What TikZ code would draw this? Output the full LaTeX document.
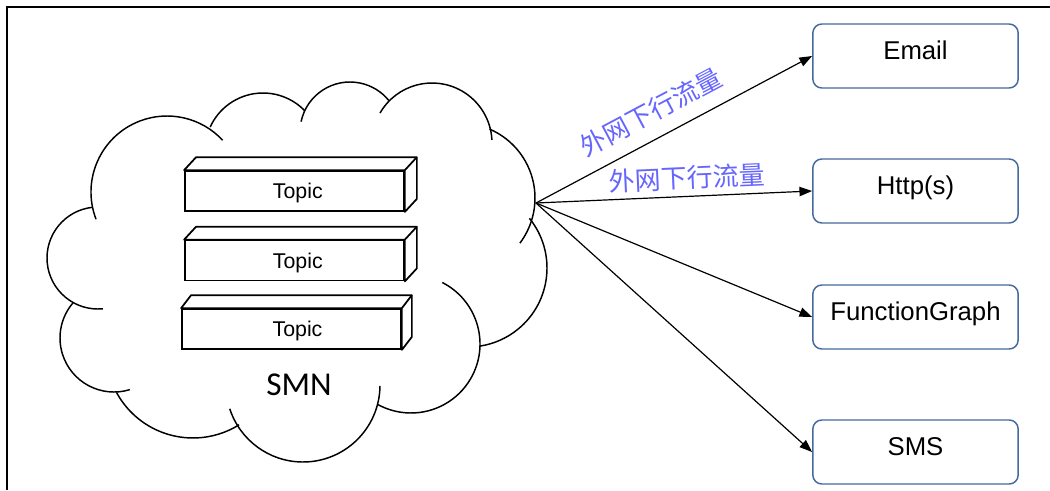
\documentclass[tikz,border=0pt]{standalone}
\usepackage{fontspec}
\setmainfont{Liberation Sans}
\newfontfamily\cjkfont{Noto Sans CJK SC}
\newfontfamily\smnfont{Carlito}
\usetikzlibrary{arrows.meta}
\definecolor{boxblue}{RGB}{68,106,158}
\definecolor{lblblue}{RGB}{102,102,255}
\begin{document}
\begin{tikzpicture}[x=0.75pt,y=-0.75pt,
  frameline/.style={line width=1.5pt},
  cloudline/.style={line width=1.1pt},
  topicbox/.style={draw, line width=1.3pt, fill=white, minimum width=164.25pt, minimum height=30pt, inner sep=0pt, font=\fontsize{16}{18}\selectfont, text height=11.4pt, text depth=0pt},
  topicface/.style={line width=1.3pt, line join=round, fill=white},
  svc/.style={draw=boxblue, line width=1.1pt, rounded corners=6.75pt, minimum width=154pt, minimum height=48pt, inner sep=0pt, font=\fontsize{19.3}{21}\selectfont, text height=13.8pt, text depth=9pt},
  flow/.style={line width=0.9pt, -{Triangle[length=9.5pt,width=7pt]}},
  flowlbl/.style={text=lblblue, font=\cjkfont\fontsize{19.5}{21}\selectfont, inner sep=0pt},
  smnlbl/.style={font=\smnfont\fontsize{25}{28}\selectfont, inner sep=0pt},
]
\useasboundingbox (0,0) rectangle (1050,490);
\fill[white] (0,0) rectangle (1050,490);
\draw[frameline] (7,490) -- (7,7) -- (1050,7);

% cloud bumps (each arc includes its inner stub)
\draw[cloudline] (98,258) ++(84.6:51) arc[start angle=84.6, end angle=264, radius=51];
\draw[cloudline] (167,192) ++(159:76) arc[start angle=159, end angle=317, radius=76];
\draw[cloudline] (263,151) ++(204.4:58) arc[start angle=204.4, end angle=315.7, radius=58];
\draw[cloudline] (350,132) ++(192:50) arc[start angle=192, end angle=321, radius=50];
\draw[cloudline] (432,143) ++(210:60) arc[start angle=210, end angle=357, radius=60];
\draw[cloudline] (460,198) ++(293.2:75) arc[start angle=293.2, end angle=397, radius=75];
\draw[cloudline] (468,268) ++(-39:79) arc[start angle=-39, end angle=81.4, radius=79];
\draw[cloudline] (411,344) ++(-63:69) arc[start angle=-63, end angle=119, radius=69];
\draw[cloudline] (303,385) ++(0.7:77) arc[start angle=0.7, end angle=162, radius=77];
\draw[cloudline] (193,351) ++(58:87) arc[start angle=58, end angle=151.6, radius=87];
\draw[cloudline] (114,338) ++(73:54) arc[start angle=73, end angle=220.5, radius=54];

% topics
\node[topicbox] (t1) at (294.5,191) {\hspace*{5pt}Topic};
\draw[topicface] (t1.north west) -- ++(12,-13) -- ([shift={(12,-13)}]t1.north east) -- ([shift={(12,-13)}]t1.south east) -- (t1.south east) -- (t1.north east) -- cycle;
\draw[topicface] (t1.north east) -- ++(12,-13);

\node[topicbox] (t2) at (294.5,260.5) {\hspace*{5pt}Topic};
\draw[topicface] (t2.north west) -- ++(12,-13) -- ([shift={(12,-13)}]t2.north east) -- ([shift={(12,-13)}]t2.south east) -- (t2.south east) -- (t2.north east) -- cycle;
\draw[topicface] (t2.north east) -- ++(12,-13);

\node[topicbox] (t3) at (291.5,329) {\hspace*{9pt}Topic};
\draw[topicface] (t3.north west) -- ++(10,-13) -- ([shift={(10,-13)}]t3.north east) -- ([shift={(10,-13)}]t3.south east) -- (t3.south east) -- (t3.north east) -- cycle;
\draw[topicface] (t3.north east) -- ++(10,-13);

\node[smnlbl] (smn) at (299,385) {SMN};

% services
\node[svc] (email) at (915.5,56) {Email};
\node[svc] (http) at (915.5,191) {Http(s)};
\node[svc] (fg) at (915.5,317) {FunctionGraph};
\node[svc] (sms) at (915.5,452) {SMS};

\coordinate (src) at (536,203);
\draw[flow] (src) -- (email.west);
\draw[flow] (src) -- (http.west);
\draw[flow] (src) -- (fg.west);
\draw[flow] (src) -- (sms.west);

\node[flowlbl, rotate=28] (lbl1) at (651,112) {外网下行流量};
\node[flowlbl, rotate=2.5] (lbl2) at (687,178) {外网下行流量};
\end{tikzpicture}
\end{document}
